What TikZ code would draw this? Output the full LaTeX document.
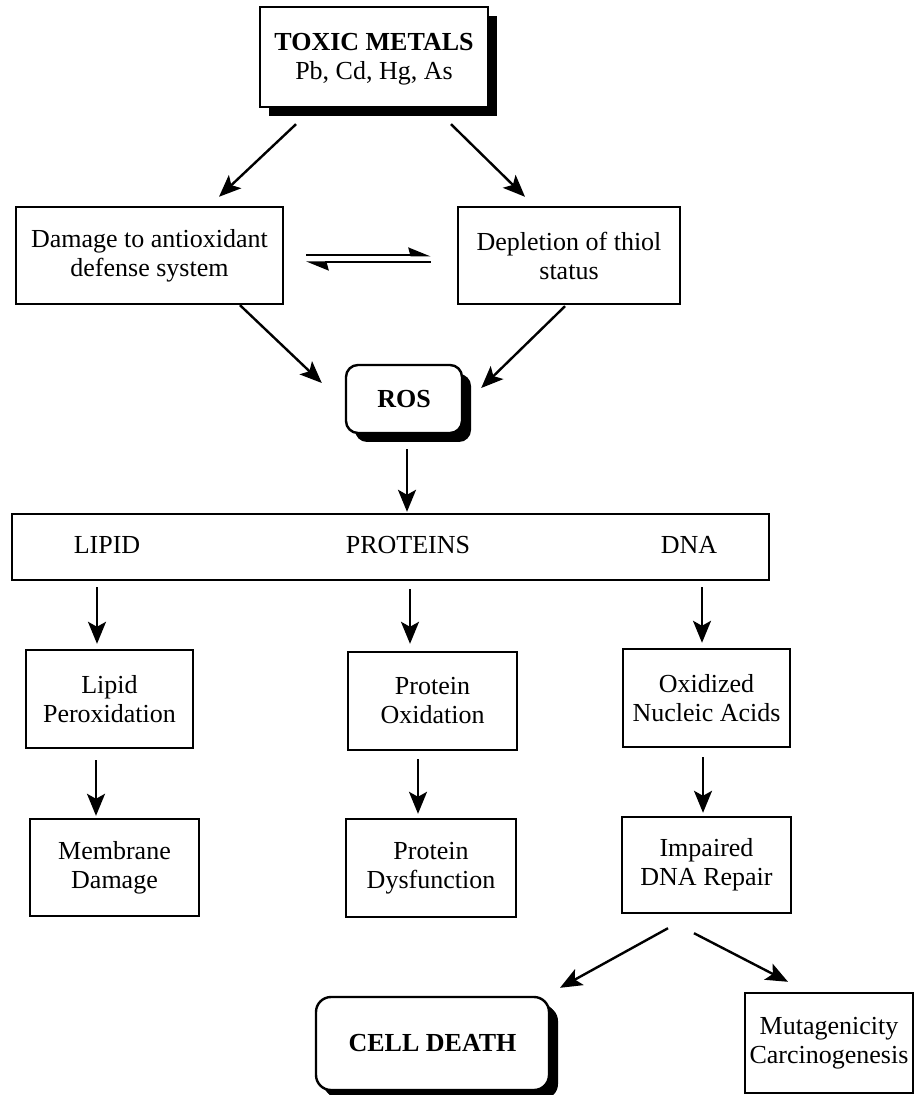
\documentclass[tikz,border=0pt]{standalone}
\usepackage{fontspec}
\setmainfont{Liberation Serif}
\usetikzlibrary{arrows.meta,shadows,calc}

\begin{document}
\begin{tikzpicture}[x=0.5pt,y=-0.5pt,
  box/.style={draw,line width=1.2pt,align=center,inner sep=2pt,font=\fontsize{13}{14.5}\selectfont},
  shadowbox/.style={box,fill=white,drop shadow={shadow xshift=4.5pt,shadow yshift=-4.5pt,fill=black,opacity=1}},
  lbl/.style={font=\fontsize{13}{14.5}\selectfont},
  arr/.style={-{Stealth[length=11pt,width=9pt,inset=2.5pt]},line width=1.2pt},
  eqarr/.style={-{Stealth[harpoon,length=10pt,width=8pt,inset=1pt]},line width=1pt}]

\useasboundingbox (0,0) rectangle (918,1095);

% Drawing the source and the two first effects
\node[shadowbox,minimum width=114pt,minimum height=50pt] (tox) at (374,57) {\rule{0pt}{11pt}\textbf{TOXIC METALS}\\Pb, Cd, Hg, As};
\node[box,minimum width=133.5pt,minimum height=48.5pt] (dam) at (149.5,255.5) {Damage to antioxidant\\defense system};
\node[box,minimum width=111pt,minimum height=48.5pt] (dep) at (569,255.5) {Depletion of thiol\\status};
\node[shadowbox,rounded corners=6pt,minimum width=58pt,minimum height=34pt] (ros) at (404,399) {\textbf{ROS}};

% Drawing the target bar
\node[box,minimum width=378.5pt,minimum height=33pt] (bar) at (390.5,547) {};
\node[lbl] (lip) at (107,545) {LIPID};
\node[lbl] (prot) at (408,545) {PROTEINS};
\node[lbl] (dna) at (689,545) {DNA};

% Drawing the damage boxes
\node[box,minimum width=83.5pt,minimum height=49pt] (lperox) at (109.5,699) {Lipid\\Peroxidation};
\node[box,minimum width=84.5pt,minimum height=49pt] (pox) at (432.5,701) {Protein\\Oxidation};
\node[box,minimum width=83.5pt,minimum height=49pt] (onuc) at (706.5,698) {Oxidized\\Nucleic Acids};
\node[box,minimum width=84.5pt,minimum height=48.5pt] (memb) at (114.5,867.5) {Membrane\\Damage};
\node[box,minimum width=85pt,minimum height=49pt] (pdys) at (431,868) {Protein\\Dysfunction};
\node[box,minimum width=84.5pt,minimum height=48pt] (impd) at (706.5,865) {Impaired\\DNA Repair};
\node[shadowbox,rounded corners=7.5pt,minimum width=116.5pt,minimum height=46.5pt,drop shadow={shadow xshift=3.5pt,shadow yshift=-3.5pt,fill=black,opacity=1}] (cell) at (432.5,1043.5) {\textbf{CELL DEATH}};
\node[box,minimum width=84pt,minimum height=50pt] (muta) at (829,1043) {Mutagenicity\\Carcinogenesis};

% Arrows
\draw[arr] ($(tox.south)+(-78,16)$) -- ($(dam.north)+(69.5,-9)$);
\draw[arr] ($(tox.south)+(77,16)$) -- ($(dep.north)+(-44,-9)$);
\draw[eqarr] ($(dam.east)+(22,0)$) -- ($(dep.west)+(-26,0)$); % forward
\draw[eqarr] ($(dep.west)+(-26,7)$) -- ($(dam.east)+(22,7)$); % backward
\draw[arr] ($(dam.south)+(90.5,0)$) -- ($(ros.west)+(-23,-16)$);
\draw[arr] ($(dep.south)+(-4,1)$) -- ($(ros.east)+(18,-11)$);
\draw[arr] ($(ros.south)+(3,15)$) -- ($(ros.south |- bar.north)+(3,-1)$);
\draw[arr] ($(lip |- bar.south)+(-10,6)$) -- ($(lip |- lperox.north)+(-10,-5)$);
\draw[arr] ($(prot |- bar.south)+(2,8)$) -- ($(prot |- pox.north)+(2,-7)$);
\draw[arr] ($(dna |- bar.south)+(13,6)$) -- ($(dna |- onuc.north)+(13,-5)$);
\draw[arr] ($(lperox.south)+(-13.5,11)$) -- ($(lperox.south |- memb.north)+(-13.5,-2)$);
\draw[arr] ($(pox.south)+(-14.5,8)$) -- ($(pox.south |- pdys.north)+(-14.5,-4)$);
\draw[arr] ($(onuc.south)+(-3.5,9)$) -- ($(onuc.south |- impd.north)+(-3.5,-3)$);
\draw[arr] ($(impd.south)+(-38.5,14)$) -- ($(cell.north)+(127.5,-8)$);
\draw[arr] ($(impd.south)+(-12.5,19)$) -- ($(muta.north)+(-41,-10)$);

\end{tikzpicture}
\end{document}
